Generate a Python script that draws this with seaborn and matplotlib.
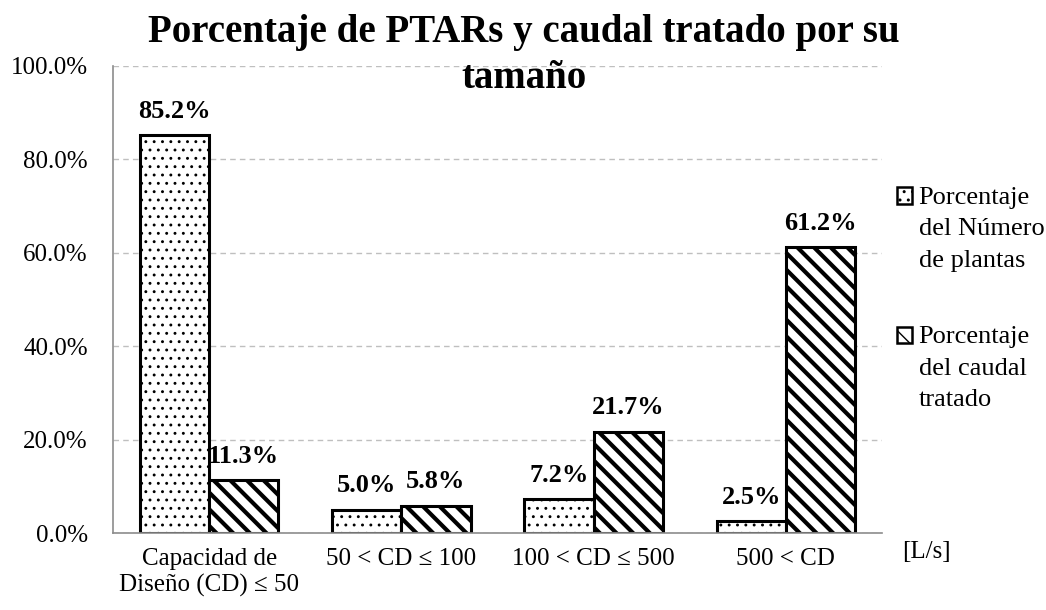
import numpy as np
import pandas as pd
import matplotlib
matplotlib.use('Agg')
import matplotlib.pyplot as plt
from matplotlib.patches import Patch, Rectangle
from matplotlib.legend_handler import HandlerPatch
from matplotlib.ticker import PercentFormatter, FixedLocator
import seaborn as sns

# datos
categorias = ['Capacidad de\nDiseño (CD) ≤ 50', '50 < CD ≤ 100',
              '100 < CD ≤ 500', '500 < CD']
pct_plantas = [85.2, 5.0, 7.2, 2.5]
pct_caudal = [11.3, 5.8, 21.7, 61.2]
series = ['Porcentaje\ndel Número\nde plantas', 'Porcentaje\ndel caudal\ntratado']
hatches = ['..', '\\\\']
hatch_lw = [0.9, 3.0]

df = pd.DataFrame({
    'categoria': categorias * 2,
    'serie': [series[0]] * len(categorias) + [series[1]] * len(categorias),
    'valor': pct_plantas + pct_caudal,
})

sns.set_style('white')
plt.rcParams['font.family'] = ['Liberation Serif', 'DejaVu Serif']
plt.rcParams['text.color'] = 'black'
plt.rcParams['hatch.color'] = 'black'
GRIS = '#8c8c8c'

fig = plt.figure(figsize=(10.46, 6.10), dpi=100)
ax = fig.add_axes([113 / 1046, 1 - 533 / 610, (882 - 113) / 1046, (533 - 66) / 610])

sns.barplot(data=df, x='categoria', y='valor', hue='serie',
            palette=['white', 'white'], edgecolor='black', linewidth=2.2,
            width=0.72, gap=0, legend=False, ax=ax)

for cont, h, lw in zip(ax.containers, hatches, hatch_lw):
    for bar in cont:
        bar.set_hatch(h)
        if hasattr(bar, 'set_hatch_linewidth'):
            bar.set_hatch_linewidth(lw)
    ax.bar_label(cont, labels=[f'{v:.1f}%' for v in cont.datavalues],
                 padding=9, fontsize=19, fontweight='bold', color='black')

ax.set_xlim(-0.5, 3.5)
ax.set_ylim(0, 100)
ax.yaxis.set_major_locator(FixedLocator(np.arange(0, 101, 20)))
ax.yaxis.set_major_formatter(PercentFormatter(decimals=1))
ax.grid(axis='y', color='#bfbfbf', linestyle=(0, (4, 3)), linewidth=1)
ax.set_axisbelow(True)
ax.set_xlabel('')
ax.set_ylabel('')

for s in ['top', 'right']:
    ax.spines[s].set_visible(False)
for s in ['left', 'bottom']:
    ax.spines[s].set_color(GRIS)
    ax.spines[s].set_linewidth(1.2)

ax.xaxis.set_minor_locator(FixedLocator(np.arange(-0.5, 3.6, 1)))
ax.tick_params(axis='x', which='major', length=0, pad=11, labelsize=18,
               labelcolor='black')
ax.tick_params(axis='x', which='minor', length=7, color=GRIS, direction='out')
ax.tick_params(axis='y', length=6, color=GRIS, direction='out', pad=12,
               labelsize=18, labelcolor='black')

fig.text(524 / 1046, 1 - 14 / 610,
         'Porcentaje de PTARs y caudal tratado por su\ntamaño',
         ha='center', va='top', fontsize=28, fontweight='bold',
         linespacing=1.33, color='black')

fig.text(902 / 1046, 1 - 552 / 610, '[L/s]', ha='left', va='center',
         fontsize=18, color='black')


def marcador_arriba(legend, orig_handle, xdescent, ydescent, width, height, fontsize):
    # coloca el cuadrito a la altura de la primera linea del texto
    return Rectangle((-xdescent, -ydescent + fontsize * 1.25), width, height)


handles = [Patch(facecolor='white', edgecolor='black', hatch=h, linewidth=1.8)
           for h in hatches]
leg = fig.legend(handles, series, loc='upper left',
                 bbox_to_anchor=(897 / 1046, 1 - 187 / 610), frameon=False,
                 fontsize=19, handlelength=0.57, handleheight=0.57,
                 handletextpad=0.25, labelspacing=2.07, borderpad=0,
                 borderaxespad=0,
                 handler_map={Patch: HandlerPatch(patch_func=marcador_arriba)})
for t in leg.get_texts():
    t.set_linespacing(1.55)

fig.savefig('out.png', dpi=100)
